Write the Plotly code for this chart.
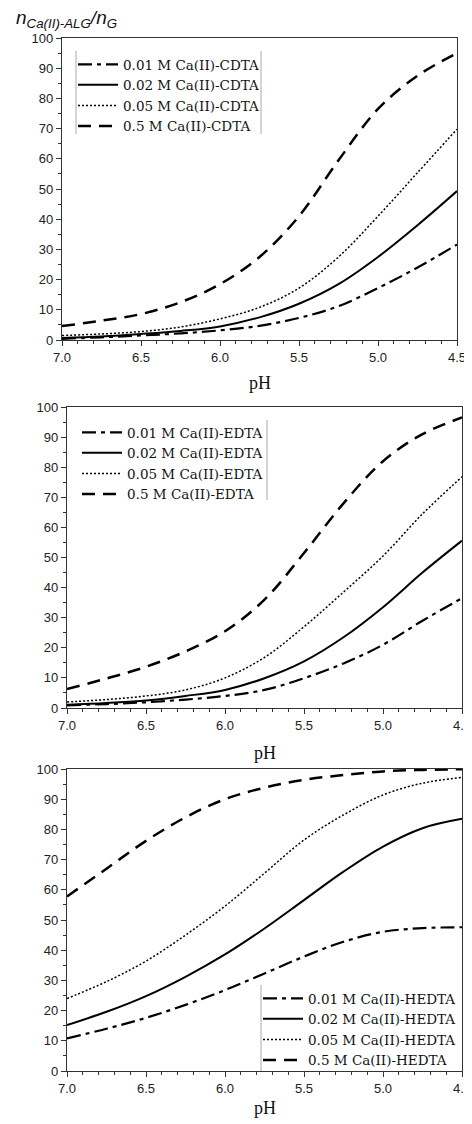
import plotly.graph_objects as go

# ---- data ----
ph = [7.0, 6.75, 6.5, 6.25, 6.0, 5.75, 5.5, 5.25, 5.0, 4.75, 4.5]

cdta_001 = [0.4, 0.9, 1.5, 2.2, 3.2, 4.7, 7.3, 11.2, 17.2, 24.0, 31.6]
cdta_002 = [0.7, 1.2, 2.0, 3.0, 4.5, 7.5, 12.0, 18.5, 27.5, 38.0, 49.3]
cdta_005 = [1.5, 2.0, 2.8, 4.3, 7.0, 10.8, 17.2, 27.5, 41.0, 55.4, 69.8]
cdta_05 = [4.6, 6.4, 8.6, 12.5, 18.5, 27.5, 41.0, 59.5, 76.5, 87.5, 95.0]

edta_001 = [0.9, 1.3, 1.9, 2.8, 4.0, 6.0, 9.9, 14.8, 21.0, 29.0, 36.5]
edta_002 = [1.1, 1.7, 2.5, 4.0, 6.0, 9.9, 15.5, 23.5, 33.5, 45.0, 55.6]
edta_005 = [2.0, 2.8, 4.0, 6.0, 10.0, 16.8, 27.0, 38.5, 50.5, 64.5, 76.8]
edta_05 = [6.3, 9.8, 13.7, 18.8, 25.5, 36.0, 51.5, 68.0, 82.0, 91.0, 96.5]

hedta_001 = [10.8, 14.0, 17.6, 21.9, 26.8, 32.3, 37.9, 42.8, 46.1, 47.3, 47.6]
hedta_002 = [15.2, 19.6, 24.8, 31.2, 38.6, 47.2, 56.6, 66.0, 74.3, 80.4, 83.5]
hedta_005 = [24.0, 29.6, 36.4, 45.0, 54.6, 65.5, 76.5, 84.8, 91.4, 95.3, 97.2]
hedta_05 = [57.8, 67.0, 76.2, 84.0, 90.0, 93.8, 96.4, 98.0, 99.2, 99.7, 99.9]

conc_labels = ["0.01 M", "0.02 M", "0.05 M", "0.5 M"]
ligands = ["CDTA", "EDTA", "HEDTA"]
x_ticks = [7.0, 6.5, 6.0, 5.5, 5.0, 4.5]
y_ticks = [0, 10, 20, 30, 40, 50, 60, 70, 80, 90, 100]

panels = [
    [cdta_001, cdta_002, cdta_005, cdta_05],
    [edta_001, edta_002, edta_005, edta_05],
    [hedta_001, hedta_002, hedta_005, hedta_05],
]

# ---- page geometry ----
# the page's body has an 8px default margin, so the figure is offset by it
OFF = 8
W, H = 472 - OFF, 1124 - OFF


def px(x):
    return (x - OFF) / W


def py(y):
    return 1 - (y - OFF) / H


dashes = ["14px,5px,4px,5px", "solid", "2px,2px", "13px,8px"]
widths = [2.2, 2.0, 1.5, 2.5]

fig = go.Figure()
for p, series in enumerate(panels):
    sfx = "" if p == 0 else str(p + 1)
    for i, vals in enumerate(series):
        fig.add_trace(go.Scatter(
            x=ph, y=vals, mode="lines",
            line=dict(color="black", width=widths[i], dash=dashes[i], shape="spline", smoothing=1.0),
            name=f"{conc_labels[i]} Ca(II)-{ligands[p]}",
            xaxis="x" + sfx, yaxis="y" + sfx,
            legend="legend" + sfx,
        ))

# panel geometry in page pixels: left, right, top, bottom
geo = [
    (62, 457, 38, 340),
    (67, 462, 407, 708),
    (67, 462, 769, 1071),
]
tickfont = dict(family="Liberation Sans, Arial", size=13, color="#222")
layout = dict(
    template="none",
    width=W, height=H, margin=dict(l=0, r=0, t=0, b=0, pad=0, autoexpand=False),
    paper_bgcolor="white", plot_bgcolor="white", showlegend=True,
)
for p, (x0, x1, y0, y1) in enumerate(geo):
    n = p + 1
    sx = "" if n == 1 else str(n)
    xd = [px(x0), px(x1)]
    yd = [py(y1), py(y0)]
    layout["xaxis" + sx] = dict(
        domain=xd, range=[7.0, 4.5], anchor="y" + sx, automargin=False,
        tickvals=x_ticks, tickformat=".1f", ticks="outside", ticklen=5, tickwidth=1,
        tickcolor="#333", showline=True, linecolor="#333", linewidth=1.2, mirror=True,
        showgrid=False, zeroline=False, tickfont=tickfont,
        minor=dict(dtick=0.1, ticks="outside", ticklen=3, tickcolor="#333", showgrid=False),
    )
    layout["yaxis" + sx] = dict(
        domain=yd, range=[0, 100], anchor="x" + sx, automargin=False,
        tickvals=y_ticks, ticks="outside", ticklen=5, tickwidth=1,
        tickcolor="#333", showline=True, linecolor="#333", linewidth=1.2, mirror=True,
        showgrid=False, zeroline=False, tickfont=tickfont,
        minor=dict(dtick=5, ticks="outside", ticklen=3, tickcolor="#333", showgrid=False),
    )
    # mirrored inward ticks on top and right
    layout["xaxis" + str(n + 3)] = dict(
        overlaying="x" + sx, anchor="y" + sx, side="top", range=[7.0, 4.5], automargin=False,
        tickvals=x_ticks, ticks="inside", ticklen=4, tickcolor="#333", showticklabels=False,
        showgrid=False, zeroline=False, showline=False,
        minor=dict(dtick=0.1, ticks="inside", ticklen=2.5, tickcolor="#333", showgrid=False),
    )
    layout["yaxis" + str(n + 3)] = dict(
        overlaying="y" + sx, anchor="x" + sx, side="right", range=[0, 100], automargin=False,
        tickvals=y_ticks, ticks="inside", ticklen=4, tickcolor="#333", showticklabels=False,
        showgrid=False, zeroline=False, showline=False,
        minor=dict(dtick=5, ticks="inside", ticklen=2.5, tickcolor="#333", showgrid=False),
    )

legfont = dict(family="DejaVu Serif, Liberation Serif", size=13.5, color="#111")
leg_pos = [(73, 49), (77, 417), (258, 983)]
for p, (lx, ly) in enumerate(leg_pos):
    key = "legend" if p == 0 else "legend" + str(p + 1)
    layout[key] = dict(
        x=px(lx), y=py(ly), xanchor="left", yanchor="top",
        bgcolor="rgba(255,255,255,0)", borderwidth=0, font=legfont,
        itemwidth=40, tracegroupgap=0,
    )

# faint vertical rules at the legend box sides (as in the source figure)
rules = [(76, 51, 134), (261, 51, 134), (267, 420, 500), (261, 985, 1071)]
layout["shapes"] = [
    dict(type="line", xref="paper", yref="paper", x0=px(rx), x1=px(rx),
         y0=py(ya), y1=py(yb), line=dict(color="#aaa", width=1))
    for rx, ya, yb in rules
]

annotations = [
    dict(text="<i>n</i><sub><i>Ca(II)-ALG</i></sub><i>/n</i><sub><i>G</i></sub>",
         x=px(14), y=py(19), xref="paper", yref="paper", xanchor="left", yanchor="middle",
         showarrow=False, font=dict(family="Liberation Sans, Arial", size=19, color="#111")),
]
for (x0, x1, y0, y1), ty in zip(geo, [383, 753, 1108]):
    annotations.append(dict(
        text="pH", x=px((x0 + x1) / 2), y=py(ty), xref="paper", yref="paper",
        xanchor="center", yanchor="middle", showarrow=False,
        font=dict(family="Liberation Serif, Times New Roman", size=18, color="#111")))
layout["annotations"] = annotations

fig.update_layout(**layout)
fig.write_html("out.html")
